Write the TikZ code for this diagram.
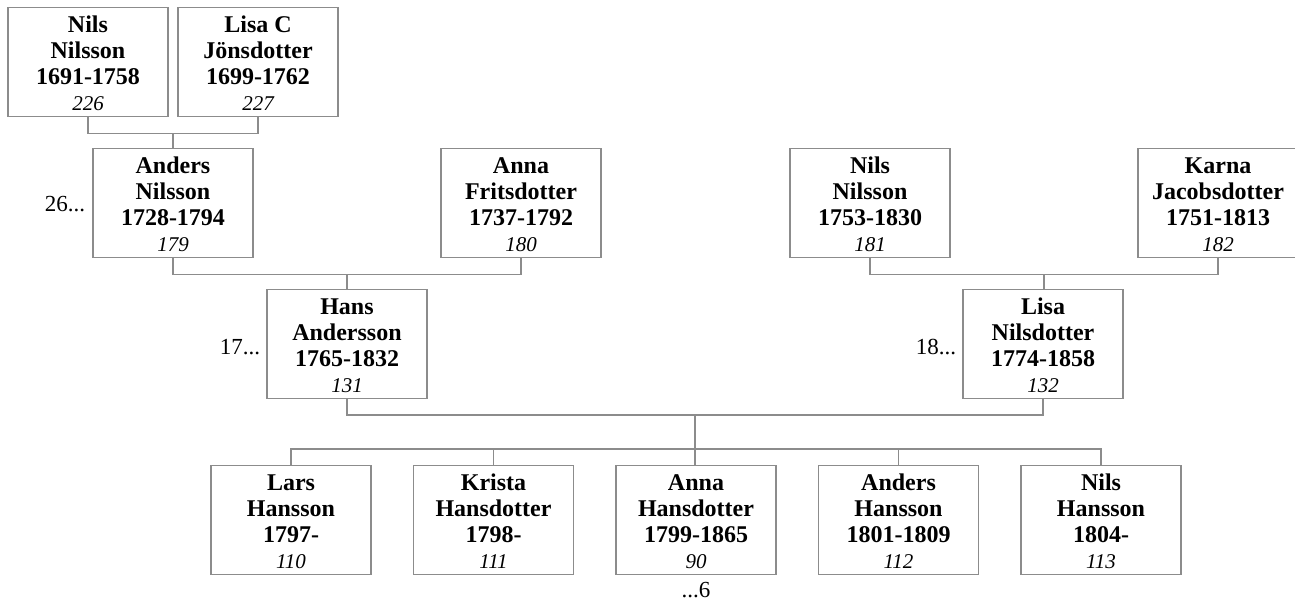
\documentclass[tikz,border=0pt]{standalone}
\usepackage{fontspec}
\setmainfont{Liberation Serif}
\usetikzlibrary{calc}
\definecolor{boxgray}{RGB}{140,140,140}
\newcommand{\pnum}[1]{{\fontsize{21}{21}\selectfont\mdseries\itshape #1}\rule[-5pt]{0pt}{5pt}}
\newcommand{\topstrut}{\rule{0pt}{24.3pt}}
\tikzset{
  person/.style={draw=boxgray, line width=1.3pt, fill=white, minimum width=160pt, minimum height=109pt,
    inner sep=0pt, align=center, font=\fontsize{24}{26.3}\selectfont\bfseries},
  conn/.style={draw=boxgray, line width=1.3pt},
  more/.style={font=\fontsize{23}{23}\selectfont, inner sep=0pt}
}
\begin{document}
\begin{tikzpicture}[x=1pt,y=-1pt]
\useasboundingbox (0,0) rectangle (1295,601);
\clip (0,0) rectangle (1295,601);
% row 0
\node[person] (n226) at (88,61.7) {\topstrut Nils\\Nilsson\\1691-1758\\[-0.6pt]\pnum{226}};
\node[person] (n227) at (258,61.7) {\topstrut Lisa C\\Jönsdotter\\1699-1762\\[-0.6pt]\pnum{227}};
% row 1
\node[person] (n179) at (173,202.7) {\topstrut Anders\\Nilsson\\1728-1794\\[-0.6pt]\pnum{179}};
\node[person] (n180) at (521,202.7) {\topstrut Anna\\Fritsdotter\\1737-1792\\[-0.6pt]\pnum{180}};
\node[person] (n181) at (870,202.7) {\topstrut Nils\\Nilsson\\1753-1830\\[-0.6pt]\pnum{181}};
\node[person] (n182) at (1218,202.7) {\topstrut Karna\\Jacobsdotter\\1751-1813\\[-0.6pt]\pnum{182}};
% row 2
\node[person] (n131) at (347,343.8) {\topstrut Hans\\Andersson\\1765-1832\\[-0.6pt]\pnum{131}};
\node[person] (n132) at (1043,343.8) {\topstrut Lisa\\Nilsdotter\\1774-1858\\[-0.6pt]\pnum{132}};
% row 3
\node[person] (c110) at (291,519.8) {\topstrut Lars\\Hansson\\1797-\\[-0.6pt]\pnum{110}};
\node[person] (c111) at (493.5,519.8) {\topstrut Krista\\Hansdotter\\1798-\\[-0.6pt]\pnum{111}};
\node[person] (c90) at (696,519.8) {\topstrut Anna\\Hansdotter\\1799-1865\\[-0.6pt]\pnum{90}};
\node[person] (c112) at (898.5,519.8) {\topstrut Anders\\Hansson\\1801-1809\\[-0.6pt]\pnum{112}};
\node[person] (c113) at (1101,519.8) {\topstrut Nils\\Hansson\\1804-\\[-0.6pt]\pnum{113}};
% side labels
\node[more, anchor=east] (l26) at ([xshift=-7pt,yshift=-1.5pt]n179.west) {26...};
\node[more, anchor=east] (l17) at ([xshift=-6pt,yshift=-3pt]n131.west) {17...};
\node[more, anchor=east] (l18) at ([xshift=-6pt,yshift=-3.5pt]n132.west) {18...};
\node[more] (l6) at ([yshift=-15pt]c90.south) {...6};
% connectors
\draw[conn] (n226.south) -- ++(0,16.5) -| (n227.south);
\coordinate (m0) at ($(n226.south)!0.5!(n227.south)+(0,16.5)$);
\draw[conn] (m0) -- (m0 |- n179.north);
\draw[conn] (n179.south) -- ++(0,16.5) -| (n180.south);
\coordinate (m1) at ($(n179.south)!0.5!(n180.south)+(0,16.5)$);
\draw[conn] (m1) -- (m1 |- n131.north);
\draw[conn] (n181.south) -- ++(0,16.5) -| (n182.south);
\coordinate (m2) at ($(n181.south)!0.5!(n182.south)+(0,16.5)$);
\draw[conn] (m2) -- (m2 |- n132.north);
\draw[conn] (n131.south) -- ++(0,16) -| (n132.south);
\coordinate (m3) at ($(n131.south)!0.5!(n132.south)+(0,16)$);
\draw[conn] (m3) -- (m3 |- c90.north);
\draw[conn] (c110.north) -- ++(0,-15.7) -| (c113.north);
\draw[conn] (c111.north) -- ++(0,-15.7);
\draw[conn] (c112.north) -- ++(0,-15.7);
\end{tikzpicture}
\end{document}
